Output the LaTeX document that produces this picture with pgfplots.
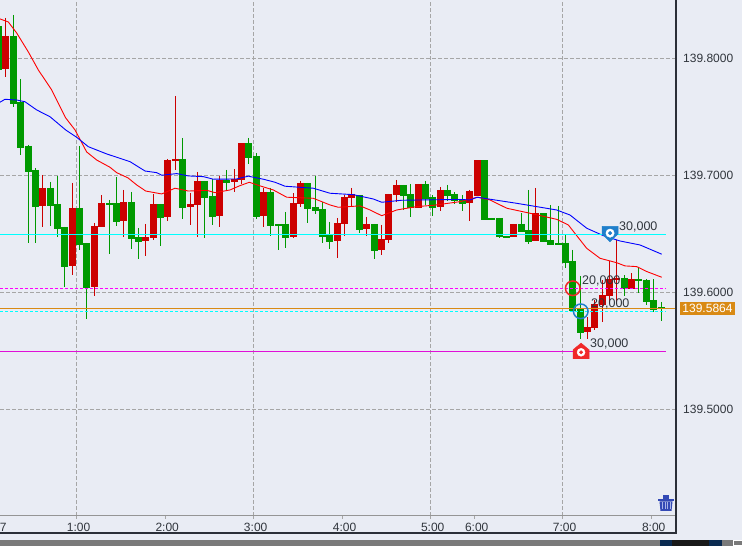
\documentclass[border=0pt]{standalone}
\usepackage{fontspec}
\setmainfont{Liberation Sans}
\usepackage{pgfplots}
\usepackage{pgfplotstable}
\pgfplotsset{compat=1.18}
\definecolor{bg}{HTML}{E9ECF4}
\definecolor{cgreen}{HTML}{009900}
\definecolor{cred}{HTML}{CC0000}
\definecolor{gridc}{HTML}{A6A6A6}
\definecolor{pinblue}{HTML}{1F7FCB}
\definecolor{pinred}{HTML}{F02828}
\definecolor{orangeline}{HTML}{D98A14}
\definecolor{txt}{HTML}{30353C}
\definecolor{lvlcyan}{HTML}{00FFFF}
\definecolor{lvlmag}{HTML}{FF00FF}
\definecolor{lvlmag2}{HTML}{E010D8}
\definecolor{frame}{HTML}{2B2F38}
\definecolor{trash}{HTML}{3349B5}
\definecolor{trashl}{HTML}{A8B4E8}
\definecolor{navy}{HTML}{0A2A50}

% bars falling (green): o above c
\pgfplotstableread{
i o h l c
-1 139.8274 139.8274 139.7906 139.7906
1 139.8188 139.8368 139.7581 139.7615
2 139.7624 139.7821 139.7171 139.7240
3 139.7248 139.7257 139.6419 139.7034
4 139.7043 139.7060 139.6419 139.6736
6 139.6890 139.6941 139.6565 139.6744
7 139.6753 139.6992 139.6470 139.6548
8 139.6556 139.6556 139.6043 139.6223
10 139.6719 139.7248 139.6359 139.6411
11 139.6419 139.6419 139.5769 139.6043
14 139.6761 139.6787 139.6325 139.6753
15 139.6761 139.6983 139.6565 139.6607
17 139.6770 139.6855 139.6368 139.6462
18 139.6470 139.6548 139.6282 139.6436
21 139.6753 139.6753 139.6394 139.6641
24 139.7137 139.7317 139.6624 139.6727
27 139.6949 139.6949 139.6462 139.6812
28 139.6821 139.6966 139.6573 139.6650
30 139.6958 139.7043 139.6872 139.6941
33 139.7273 139.7317 139.7094 139.7154
34 139.7163 139.7188 139.6624 139.6650
36 139.6855 139.6890 139.6479 139.6573
37 139.6582 139.6582 139.6359 139.6573
38 139.6582 139.6684 139.6377 139.6470
41 139.6932 139.6932 139.6590 139.6719
42 139.6727 139.6992 139.6667 139.6701
43 139.6710 139.6770 139.6419 139.6479
44 139.6487 139.6599 139.6368 139.6436
48 139.6829 139.6829 139.6504 139.6539
50 139.6582 139.6582 139.6282 139.6359
54 139.6915 139.6915 139.6701 139.6829
55 139.6838 139.6924 139.6641 139.6727
57 139.6924 139.6949 139.6744 139.6804
58 139.6812 139.6829 139.6650 139.6727
60 139.6872 139.6915 139.6778 139.6829
61 139.6838 139.6855 139.6753 139.6787
62 139.6787 139.6829 139.6692 139.6761
65 139.7128 139.7128 139.6624 139.6624
66 139.6633 139.6633 139.6624 139.6624
67 139.6633 139.6633 139.6462 139.6479
68 139.6479 139.6479 139.6470 139.6470
70 139.6582 139.6675 139.6521 139.6521
71 139.6530 139.6872 139.6411 139.6436
73 139.6675 139.6675 139.6436 139.6436
74 139.6445 139.6744 139.6411 139.6411
75 139.6419 139.6736 139.6411 139.6411
76 139.6419 139.6487 139.6206 139.6257
77 139.6265 139.6359 139.5846 139.5846
78 139.5855 139.6137 139.5598 139.5658
84 139.6120 139.6145 139.5966 139.6035
86 139.6111 139.6214 139.5991 139.6103
87 139.6103 139.6111 139.5889 139.5923
88 139.5932 139.6111 139.5829 139.5855
89 139.5872 139.5915 139.5752 139.5864
}\downbars

% bars rising (red): c above o
\pgfplotstableread{
i o h l c
0 139.7915 139.8343 139.7838 139.8188
5 139.6744 139.7000 139.6556 139.6890
9 139.6231 139.6932 139.6145 139.6719
12 139.6052 139.6590 139.5966 139.6565
13 139.6565 139.6829 139.6565 139.6761
16 139.6616 139.6872 139.6470 139.6770
19 139.6445 139.6582 139.6308 139.6470
20 139.6470 139.6838 139.6445 139.6753
22 139.6650 139.7137 139.6607 139.7128
23 139.7128 139.7676 139.7043 139.7137
25 139.6736 139.6846 139.6573 139.6753
26 139.6753 139.7026 139.6470 139.6949
29 139.6658 139.6992 139.6556 139.6958
31 139.6949 139.7051 139.6855 139.6966
32 139.6966 139.7273 139.6924 139.7273
35 139.6658 139.6890 139.6556 139.6855
39 139.6479 139.6846 139.6462 139.6761
40 139.6761 139.6949 139.6727 139.6932
45 139.6445 139.6633 139.6291 139.6590
46 139.6590 139.6829 139.6479 139.6812
47 139.6812 139.6890 139.6727 139.6838
49 139.6548 139.6641 139.6479 139.6582
51 139.6368 139.6573 139.6316 139.6453
52 139.6453 139.6838 139.6419 139.6838
53 139.6838 139.6958 139.6770 139.6915
56 139.6727 139.6924 139.6719 139.6924
59 139.6736 139.6898 139.6692 139.6872
63 139.6770 139.6872 139.6607 139.6863
64 139.6829 139.7128 139.6829 139.7128
69 139.6479 139.6582 139.6479 139.6582
72 139.6445 139.6890 139.6445 139.6675
79 139.5666 139.5786 139.5598 139.5701
80 139.5701 139.5932 139.5675 139.5898
81 139.5898 139.6103 139.5744 139.5974
82 139.5974 139.6265 139.5906 139.6111
83 139.6111 139.6445 139.5898 139.6120
85 139.6035 139.6162 139.6035 139.6111
}\upbars

\pgfdeclareplotmark{pinshield}{%
  \fill[pinblue] (-8pt,8pt) -- (8pt,8pt) -- (8pt,0.5pt) -- (0pt,-7.4pt) -- (-8pt,0.5pt) -- cycle;
  \fill[white] (0pt,1.3pt) circle[radius=4.2pt];
  \fill[pinblue] (0pt,1.3pt) circle[radius=1.8pt];
}
\pgfdeclareplotmark{pinhouse}{%
  \fill[pinred] (0pt,8pt) -- (8pt,1.3pt) -- (8pt,-7.7pt) -- (-8pt,-7.7pt) -- (-8pt,1.3pt) -- cycle;
  \fill[white] (0pt,-1.2pt) circle[radius=4pt];
  \fill[pinred] (0pt,-1.2pt) circle[radius=1.7pt];
}

\begin{document}
\begin{tikzpicture}[x=1pt,y=1pt]
\useasboundingbox (0,0) rectangle (742,546);
\fill[bg] (0,0) rectangle (742,546);
\begin{axis}[at={(0pt,30pt)},anchor=south west,scale only axis,
    width=676pt,height=516pt,
    xmin=-0.815,xmax=91.03,ymin=139.40855,ymax=139.84957,
    axis line style={draw=none},
    tick align=outside,major tick length=3pt,
    xtick pos=bottom,ytick pos=right,yticklabel pos=right,
    xtick={9.59,21.63,33.65,45.73,57.70,63.68,75.61,87.73},
    xticklabels={1:00,2:00,3:00,4:00,5:00,6:00,7:00,8:00},
    extra x ticks={9.59,33.65,57.70,75.61},extra x tick labels={},
    extra x tick style={grid=major},
    ytick={139.5,139.6,139.7,139.8},
    yticklabels={139.5000,139.6000,139.7000,139.8000},
    ymajorgrids,
    major grid style={gridc,line width=0.9pt,dash pattern=on 3.5pt off 2.5pt},
    xtick style={draw=gridc,line width=0.8pt},
    ytick style={draw=none},
    xticklabel style={font=\fontsize{12}{12}\selectfont,text=txt,xshift=2pt,yshift=-1pt},
    yticklabel style={font=\fontsize{12}{12}\selectfont,text=txt,inner sep=0pt,xshift=4pt},
  ]
  % wicks
  \addplot[draw=none,mark=none,forget plot,error bars/.cd,y dir=minus,y explicit,error mark=none,
    error bar style={draw=cgreen,line width=1pt}]
    table[x=i,y=h,y error minus expr=\thisrow{h}-\thisrow{l}] {\downbars};
  \addplot[draw=none,mark=none,forget plot,error bars/.cd,y dir=minus,y explicit,error mark=none,
    error bar style={draw=cred,line width=1pt}]
    table[x=i,y=h,y error minus expr=\thisrow{h}-\thisrow{l}] {\upbars};
  % bodies
  \addplot[draw=none,mark=none,forget plot,error bars/.cd,y dir=minus,y explicit,error mark=none,
    error bar style={draw=cgreen,line width=7pt}]
    table[x=i,y=o,y error minus expr=\thisrow{o}-\thisrow{c}+0.0008] {\downbars};
  \addplot[draw=none,mark=none,forget plot,error bars/.cd,y dir=minus,y explicit,error mark=none,
    error bar style={draw=cred,line width=7pt}]
    table[x=i,y=c,y error minus expr=\thisrow{c}-\thisrow{o}+0.0008] {\upbars};
  % moving averages
  \addplot[red,line width=0.9pt] coordinates {
    (-0.82,139.8334)(0.31,139.8308)(1.45,139.8214)(3.03,139.8052)(4.39,139.7898)(6.21,139.7727)
    (8.11,139.7488)(9.38,139.7385)(10.96,139.7197)(12.32,139.7128)(14.13,139.7066)(15.04,139.7020)
    (16.58,139.6975)(17.76,139.6915)(18.98,139.6863)(21.15,139.6838)(22.96,139.6887)(24.77,139.6863)
    (27.27,139.6869)(28.40,139.6849)(30.43,139.6872)(31.79,139.6909)(33.06,139.6938)(34.51,139.6907)
    (36.32,139.6872)(38.14,139.6810)(41.75,139.6801)(44.02,139.6744)(45.15,139.6724)(48.10,139.6736)
    (49.46,139.6701)(51.05,139.6652)(53.08,139.6701)(55.80,139.6730)(58.06,139.6741)(61.68,139.6772)
    (64.04,139.6810)(65.76,139.6787)(68.03,139.6716)(71.20,139.6673)(74.82,139.6621)(76.40,139.6573)
    (78.90,139.6373)(80.71,139.6288)(82.98,139.6250)(84.10,139.6223)(85.69,139.6217)(87.05,139.6175)
    (89.09,139.6126)};
  \addplot[blue,line width=0.9pt] coordinates {
    (-0.82,139.7622)(-0.14,139.7647)(1.45,139.7641)(2.58,139.7626)(4.17,139.7556)(5.98,139.7498)
    (8.11,139.7385)(9.61,139.7322)(11.18,139.7242)(13.68,139.7180)(16.85,139.7114)(18.89,139.7034)
    (20.48,139.7020)(21.15,139.6998)(23.19,139.7012)(24.77,139.6992)(26.81,139.6986)(28.17,139.6964)
    (31.34,139.6966)(32.92,139.6990)(34.96,139.6964)(36.55,139.6938)(37.91,139.6904)(41.75,139.6887)
    (44.02,139.6844)(47.19,139.6832)(49.90,139.6795)(51.05,139.6767)(53.76,139.6784)(56.70,139.6787)
    (61.68,139.6791)(63.04,139.6787)(64.04,139.6810)(65.76,139.6793)(69.39,139.6758)(74.82,139.6701)
    (76.63,139.6658)(78.90,139.6545)(81.15,139.6482)(83.42,139.6436)(86.14,139.6402)(89.09,139.6323)};
  % horizontal levels
  \addplot[lvlcyan,line width=1pt] coordinates {(-0.815,139.6491)(89.67,139.6491)};
  \addplot[lvlmag,line width=1pt,dash pattern=on 3pt off 2pt] coordinates {(-0.815,139.6030)(89.67,139.6030)};
  \addplot[lvlcyan,line width=1pt,dash pattern=on 3pt off 2pt] coordinates {(-0.815,139.5833)(89.67,139.5833)};
  \addplot[orangeline,line width=1pt] coordinates {(-0.815,139.5860)(91.03,139.5860)};
  \addplot[lvlmag2,line width=1pt] coordinates {(-0.815,139.5491)(89.67,139.5491)};
  % order markers
  \addplot[only marks,mark=o,mark size=7.3pt,mark options={draw=pinred,line width=1.5pt}] coordinates {(77.0,139.6032)};
  \addplot[only marks,mark=o,mark size=7.3pt,mark options={draw=pinblue,line width=1.5pt}] coordinates {(78.09,139.5835)};
  \addplot[only marks,mark=pinshield] coordinates {(82.07,139.6492)};
  \addplot[only marks,mark=pinhouse] coordinates {(78.13,139.5495)};
\end{axis}
% frame
\draw[gridc!90!black,line width=1pt] (0,30) -- (676,30);
\draw[frame,line width=1.2pt] (676,546) -- (676,13) -- (0,13);
% order sizes
\node[anchor=west,inner sep=0pt,text=txt,font=\fontsize{12.5}{12.5}\selectfont] at (619,319) {30,000};
\node[anchor=west,inner sep=0pt,text=txt,font=\fontsize{12.5}{12.5}\selectfont] at (582,265) {20,000};
\node[anchor=west,inner sep=0pt,text=txt,font=\fontsize{12.5}{12.5}\selectfont] at (591,242) {20,000};
\node[anchor=west,inner sep=0pt,text=txt,font=\fontsize{12.5}{12.5}\selectfont] at (590,202) {30,000};
% current price tag
\fill[orangeline] (680,231) rectangle (735,244);
\node[text=white,inner sep=0pt,font=\fontsize{12}{12}\selectfont] at (707.5,237.5) {139.5864};
% cut-off date label
\node[anchor=east,inner sep=0pt,text=txt,font=\fontsize{12}{12}\selectfont] at (6.8,19) {7};
% trash icon
\fill[trash] (658,47) rectangle (674,44.5);
\fill[trash] (663,51) rectangle (669,47);
\fill[trash] (659.5,44.5) -- (672.5,44.5) -- (671.5,35) -- (660.5,35) -- cycle;
\foreach \sx in {662.5,665,667.5,670}
  \draw[trashl,line width=0.6pt] (\sx,43.5) -- (\sx,36.5);
% status bar
\fill[black!52] (0,0) rectangle (742,6);
\fill[navy] (660,0) rectangle (672,6);
\fill[black!90] (672,0) rectangle (709,6);
\fill[navy] (709,0) rectangle (722,6);
\draw[white] (733,0.5) rectangle (742,6);
\end{tikzpicture}
\end{document}
